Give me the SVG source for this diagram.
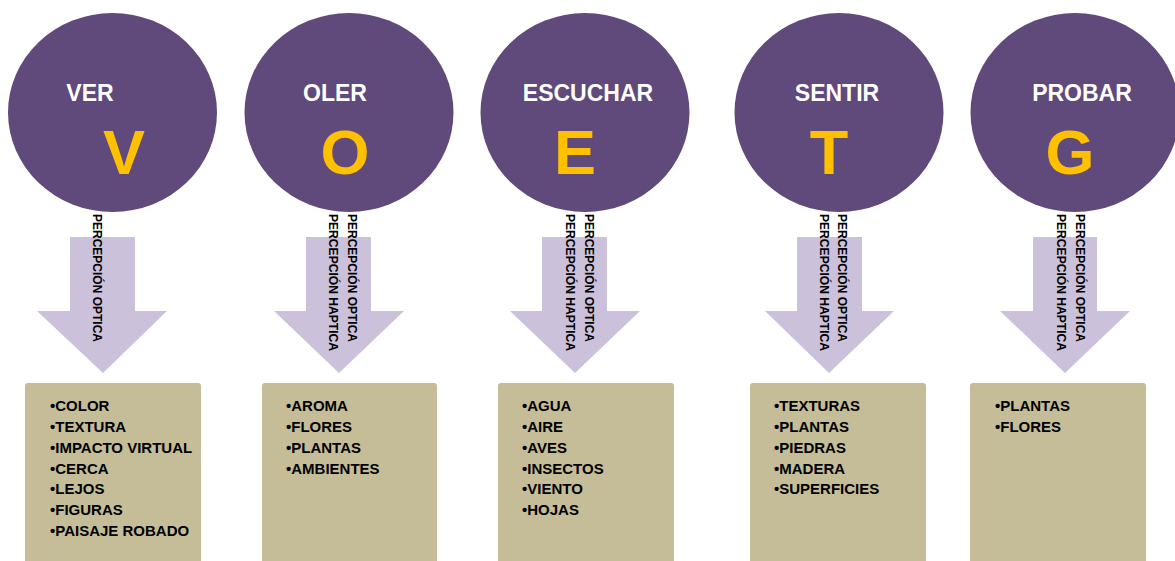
<svg xmlns="http://www.w3.org/2000/svg" width="1175" height="561" viewBox="0 0 1175 561">
<defs>
<style>
.c{fill:#604A7B}
.a{fill:#CCC1DA}
.b{fill:#C4BD97}
.t{font-family:"Liberation Sans",Arial,sans-serif;font-weight:bold;fill:#FFFFFF;font-size:23px;text-anchor:middle}
.L{font-family:"Liberation Sans",Arial,sans-serif;font-weight:bold;fill:#FFC000;font-size:63px;text-anchor:middle}
.p{font-family:"Liberation Sans",Arial,sans-serif;font-weight:bold;fill:#000;font-size:13px}
.i{font-family:"Liberation Sans",Arial,sans-serif;font-weight:bold;fill:#000;font-size:15px}
</style>
</defs>
<rect width="1175" height="561" fill="#FFFFFF"/>
<g id="connectors">
<polygon class="a" points="70,237 135,237 135,311 167,311 103,373 37,311 70,311"/>
<polygon class="a" points="306,237 371,237 371,311 404,311 339,373 274,311 306,311"/>
<polygon class="a" points="542,237 607,237 607,311 640,311 575,373 510,311 542,311"/>
<polygon class="a" points="797,237 862,237 862,311 894,311 829,373 765,311 797,311"/>
<polygon class="a" points="1033,237 1097,237 1097,311 1130,311 1065,373 1000,311 1033,311"/>
<text class="p" transform="translate(93,214) rotate(90)" textLength="128" lengthAdjust="spacingAndGlyphs">PERCEPCIÓN OPTICA</text>
<text class="p" transform="translate(348,214) rotate(90)" textLength="128" lengthAdjust="spacingAndGlyphs">PERCEPCIÓN OPTICA</text>
<text class="p" transform="translate(329,214) rotate(90)" textLength="137" lengthAdjust="spacingAndGlyphs">PERCEPCIÓN HAPTICA</text>
<text class="p" transform="translate(585,214) rotate(90)" textLength="128" lengthAdjust="spacingAndGlyphs">PERCEPCIÓN OPTICA</text>
<text class="p" transform="translate(566,214) rotate(90)" textLength="137" lengthAdjust="spacingAndGlyphs">PERCEPCIÓN HAPTICA</text>
<text class="p" transform="translate(838,214) rotate(90)" textLength="128" lengthAdjust="spacingAndGlyphs">PERCEPCIÓN OPTICA</text>
<text class="p" transform="translate(820,214) rotate(90)" textLength="137" lengthAdjust="spacingAndGlyphs">PERCEPCIÓN HAPTICA</text>
<text class="p" transform="translate(1076,214) rotate(90)" textLength="128" lengthAdjust="spacingAndGlyphs">PERCEPCIÓN OPTICA</text>
<text class="p" transform="translate(1057,214) rotate(90)" textLength="137" lengthAdjust="spacingAndGlyphs">PERCEPCIÓN HAPTICA</text>
</g>
<g id="node-ver">
<ellipse class="c" cx="112.5" cy="112.5" rx="104.5" ry="99.5"/>
<text class="t" x="90" y="101">VER</text>
<text class="L" x="124" y="174">V</text>
</g>
<g id="node-oler">
<ellipse class="c" cx="349" cy="112.5" rx="104.5" ry="99.5"/>
<text class="t" x="335" y="101">OLER</text>
<text class="L" x="345" y="174">O</text>
</g>
<g id="node-escuchar">
<ellipse class="c" cx="585" cy="112.5" rx="104.5" ry="99.5"/>
<text class="t" x="588" y="101">ESCUCHAR</text>
<text class="L" x="575" y="174">E</text>
</g>
<g id="node-sentir">
<ellipse class="c" cx="839" cy="112.5" rx="104.5" ry="99.5"/>
<text class="t" x="837" y="101">SENTIR</text>
<text class="L" x="829" y="174">T</text>
</g>
<g id="node-probar">
<ellipse class="c" cx="1075" cy="112.5" rx="104.5" ry="99.5"/>
<text class="t" x="1082" y="101">PROBAR</text>
<text class="L" x="1070" y="174">G</text>
</g>
<g id="box-ver">
<rect class="b" x="25" y="383" width="176" height="185" rx="3"/>
<text class="i" x="50" y="411">•COLOR</text>
<text class="i" x="50" y="432">•TEXTURA</text>
<text class="i" x="50" y="453">•IMPACTO VIRTUAL</text>
<text class="i" x="50" y="474">•CERCA</text>
<text class="i" x="50" y="494">•LEJOS</text>
<text class="i" x="50" y="515">•FIGURAS</text>
<text class="i" x="50" y="536">•PAISAJE ROBADO</text>
</g>
<g id="box-oler">
<rect class="b" x="262" y="383" width="175" height="185" rx="3"/>
<text class="i" x="286" y="411">•AROMA</text>
<text class="i" x="286" y="432">•FLORES</text>
<text class="i" x="286" y="453">•PLANTAS</text>
<text class="i" x="286" y="474">•AMBIENTES</text>
</g>
<g id="box-escuchar">
<rect class="b" x="498" y="383" width="176" height="185" rx="3"/>
<text class="i" x="522" y="411">•AGUA</text>
<text class="i" x="522" y="432">•AIRE</text>
<text class="i" x="522" y="453">•AVES</text>
<text class="i" x="522" y="474">•INSECTOS</text>
<text class="i" x="522" y="494">•VIENTO</text>
<text class="i" x="522" y="515">•HOJAS</text>
</g>
<g id="box-sentir">
<rect class="b" x="750" y="383" width="176" height="185" rx="3"/>
<text class="i" x="774" y="411">•TEXTURAS</text>
<text class="i" x="774" y="432">•PLANTAS</text>
<text class="i" x="774" y="453">•PIEDRAS</text>
<text class="i" x="774" y="474">•MADERA</text>
<text class="i" x="774" y="494">•SUPERFICIES</text>
</g>
<g id="box-probar">
<rect class="b" x="970" y="383" width="176" height="185" rx="3"/>
<text class="i" x="995" y="411">•PLANTAS</text>
<text class="i" x="995" y="432">•FLORES</text>
</g>
</svg>
